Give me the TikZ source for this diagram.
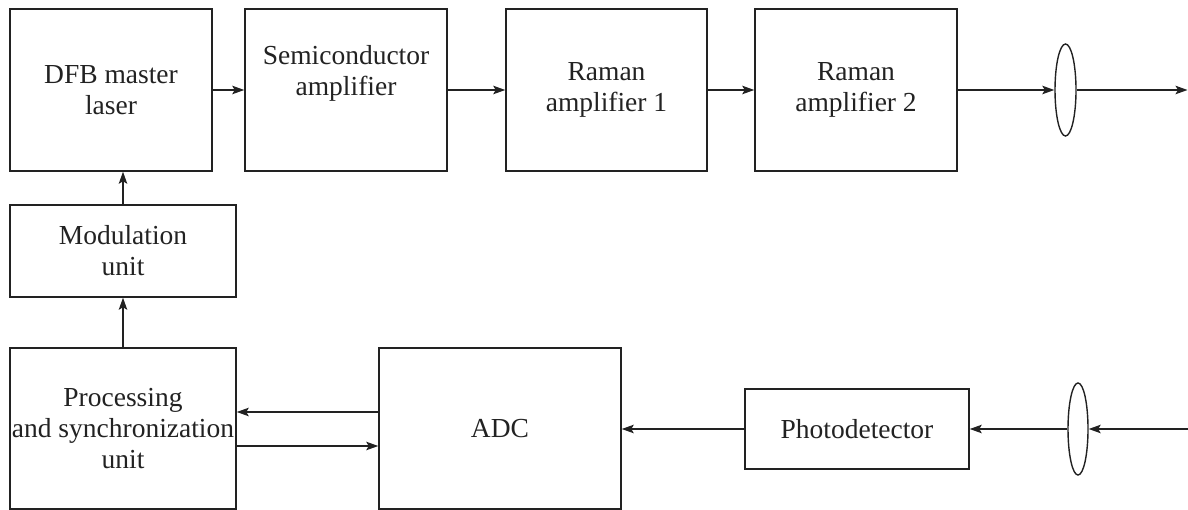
\documentclass[tikz,border=0pt]{standalone}
\usepackage{fontspec}
\setmainfont{Liberation Serif}
\usetikzlibrary{arrows.meta,shapes.geometric}
\definecolor{ink}{HTML}{222222}
\begin{document}
\begin{tikzpicture}[x=1pt,y=-1pt,
  box/.style={draw=ink,line width=1.5pt,rectangle,inner sep=0pt,align=center,
    text=ink,font=\fontsize{27.5}{31}\selectfont},
  lens/.style={draw=ink,line width=1.4pt,ellipse,inner sep=0pt},
  txt/.style={inner sep=0pt,align=center,text=ink,font=\fontsize{27.5}{31}\selectfont},
  conn/.style={draw=ink,line width=1.4pt,-{Stealth[length=12pt,width=8.5pt,inset=2.5pt]}}]
\useasboundingbox (0,0) rectangle (1188,510);
\node[box,minimum width=202pt,minimum height=162pt] (dfb) at (111,90) {DFB master\\laser};
\node[box,minimum width=202pt,minimum height=162pt] (semi) at (346,90) {};
\node[txt] (semit) at (346,73) {Semiconductor\\amplifier};
\node[box,minimum width=201pt,minimum height=162pt] (r1) at (606.5,90) {Raman\\amplifier 1};
\node[box,minimum width=202pt,minimum height=162pt] (r2) at (856,90) {Raman\\amplifier 2};
\node[lens,minimum width=21pt,minimum height=92pt] (lt) at (1065.5,90) {};
\coordinate (outT) at (1187.5,90);
\node[box,minimum width=226pt,minimum height=92pt] (mod) at (123,251) {Modulation\\unit};
\node[box,minimum width=226pt,minimum height=161pt] (proc) at (123,428.5) {Processing\\and synchronization\\unit};
\node[box,minimum width=242pt,minimum height=161pt] (adc) at (500,428.5) {ADC};
\node[box,minimum width=224pt,minimum height=80pt] (pd) at (857,429) {Photodetector};
\node[lens,minimum width=20pt,minimum height=92pt] (lb) at (1078,429) {};
\coordinate (inB) at (1188,429);
% top chain
\draw[conn] (dfb.east) -- (semi.west);
\draw[conn] (semi.east) -- (r1.west);
\draw[conn] (r1.east) -- (r2.west);
\draw[conn] (r2.east) -- (lt.west);
\draw[conn] (lt.east) -- (outT);
% left column
\draw[conn] (proc.north) -- (mod.south);
\draw[conn] (mod.north) -- (mod.north |- dfb.south);
% processing <-> ADC
\draw[conn] (adc.west |- 0,412) -- (proc.east |- 0,412);
\draw[conn] (proc.east |- 0,446) -- (adc.west |- 0,446);
% bottom chain
\draw[conn] (inB) -- (lb.east);
\draw[conn] (lb.west) -- (pd.east);
\draw[conn] (pd.west) -- (adc.east |- pd.west);
\end{tikzpicture}
\end{document}
